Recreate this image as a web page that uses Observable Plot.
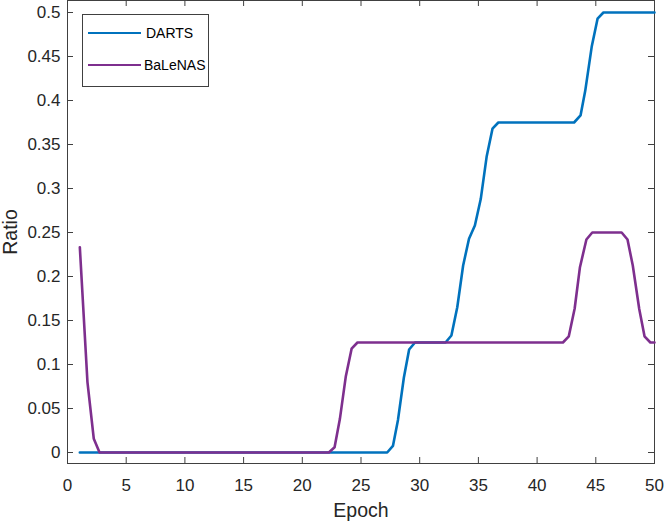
<!DOCTYPE html>
<html>
<head>
<meta charset="utf-8">
<script src="https://cdn.jsdelivr.net/npm/d3@7"></script>
<script src="https://cdn.jsdelivr.net/npm/@observablehq/plot@0.6"></script>
<style>
  html, body { margin: 0; padding: 0; background: #fff; }
  #wrap { position: relative; width: 664px; height: 522px; font-family: "Liberation Sans", Arial, Helvetica, sans-serif; }
  .legend { position: absolute; left: 82px; top: 14px; width: 127px; height: 73px; border: 1px solid #404040; background: #fff; box-sizing: border-box; }
  .legend .sw { position: absolute; left: 5px; width: 53px; height: 2.5px; }
  .legend .lb { position: absolute; left: 62px; font-size: 14px; color: #000; line-height: 16px; white-space: nowrap; }
</style>
</head>
<body>
<div id="wrap"></div>
<script>
// ---- data ----
const seriesNames = ["DARTS", "BaLeNAS"];
const seriesColors = ["#0072BD", "#7E2F8E"];

const dartsEpoch = [1.05, 27.23, 27.72, 28.15, 28.65, 29.1, 29.6, 32.2, 32.7, 33.2, 33.7, 34.2, 34.7, 35.2, 35.7, 36.2, 36.7, 43.15, 43.7, 44.1, 44.65, 45.15, 45.65, 50];
const dartsRatio = [0, 0, 0.0075, 0.037, 0.085, 0.117, 0.125, 0.125, 0.133, 0.165, 0.2125, 0.243, 0.258, 0.288, 0.336, 0.368, 0.375, 0.375, 0.383, 0.411, 0.461, 0.493, 0.5, 0.5];

const balenasEpoch = [1.05, 1.7, 2.24, 2.73, 22.26, 22.75, 23.2, 23.7, 24.2, 24.7, 42.2, 42.7, 43.2, 43.65, 44.2, 44.7, 47.2, 47.7, 48.15, 48.7, 49.15, 49.65, 50];
const balenasRatio = [0.2333, 0.08, 0.0155, 0, 0, 0.006, 0.038, 0.086, 0.118, 0.125, 0.125, 0.132, 0.1636, 0.2106, 0.242, 0.25, 0.25, 0.242, 0.2125, 0.163, 0.132, 0.125, 0.125];

const xTicks = [0, 5, 10, 15, 20, 25, 30, 35, 40, 45, 50];
const yTicks = [0, 0.05, 0.1, 0.15, 0.2, 0.25, 0.3, 0.35, 0.4, 0.45, 0.5];
const xLabel = "Epoch";
const yLabel = "Ratio";

const darts = dartsEpoch.map((e, i) => ({epoch: e, ratio: dartsRatio[i]}));
const balenas = balenasEpoch.map((e, i) => ({epoch: e, ratio: balenasRatio[i]}));

// ---- layout ----
const W = 664, H = 522;
const mL = 67, mR = 10, mT = 0, mB = 59;
const innerW = W - mL - mR;
const innerH = H - mT - mB;
const axisColor = "#404040";
const textColor = "#262626";
const tickLen = 6;

const chart = Plot.plot({
  width: W,
  height: H,
  marginLeft: mL,
  marginRight: mR,
  marginTop: mT,
  marginBottom: mB,
  style: {fontFamily: '"Liberation Sans", Arial, Helvetica, sans-serif', fontSize: "17px", color: textColor, background: "white", overflow: "visible"},
  x: {domain: [0, 50]},
  y: {domain: [-0.0125, 0.51364]},
  marks: [
    Plot.frame({stroke: axisColor, strokeWidth: 1}),
    Plot.tickX(xTicks, {x: d => d, insetTop: innerH - tickLen, stroke: axisColor, strokeWidth: 1}),
    Plot.tickX(xTicks, {x: d => d, insetBottom: innerH - tickLen, stroke: axisColor, strokeWidth: 1}),
    Plot.tickY(yTicks, {y: d => d, insetRight: innerW - tickLen, stroke: axisColor, strokeWidth: 1}),
    Plot.tickY(yTicks, {y: d => d, insetLeft: innerW - tickLen, stroke: axisColor, strokeWidth: 1}),
    Plot.axisX(xTicks, {tickSize: 0, tickPadding: 15, label: null, fontSize: 17, fill: textColor}),
    Plot.axisY(yTicks, {tickSize: 0, tickPadding: 7, label: null, fontSize: 17, fill: textColor, tickFormat: d => String(d)}),
    Plot.text([xLabel], {text: d => d, frameAnchor: "bottom", textAnchor: "middle", lineAnchor: "middle", dy: 47, fontSize: 19.5, fill: textColor}),
    Plot.text([yLabel], {text: d => d, frameAnchor: "left", textAnchor: "middle", lineAnchor: "middle", dx: -56.5, rotate: -90, fontSize: 19.5, fill: textColor}),
    Plot.line(darts, {x: "epoch", y: "ratio", stroke: seriesColors[0], strokeWidth: 2.6, strokeLinejoin: "round"}),
    Plot.line(balenas, {x: "epoch", y: "ratio", stroke: seriesColors[1], strokeWidth: 2.6, strokeLinejoin: "round"})
  ]
});

const wrap = document.getElementById("wrap");
wrap.appendChild(chart);

// legend inside the axes (top-left)
const leg = document.createElement("div");
leg.className = "legend";
const rowY = [18, 50];
seriesNames.forEach((name, i) => {
  const sw = document.createElement("div");
  sw.className = "sw";
  sw.style.top = (rowY[i] - 1.25) + "px";
  sw.style.background = seriesColors[i];
  const lb = document.createElement("div");
  lb.className = "lb";
  lb.style.top = (rowY[i] - 8) + "px";
  lb.style.left = (i === 0 ? 63 : 61) + "px";
  lb.textContent = name;
  leg.appendChild(sw);
  leg.appendChild(lb);
});
wrap.appendChild(leg);
</script>
</body>
</html>
